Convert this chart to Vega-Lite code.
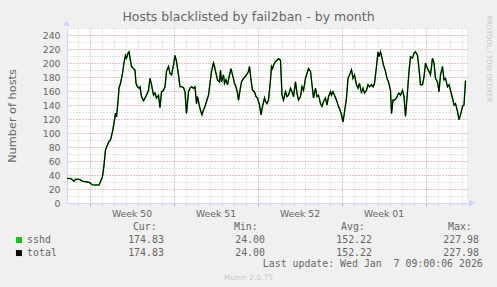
{
"$schema": "https://vega.github.io/schema/vega-lite/v6.json",
"width": 400, "height": 175,
"autosize": "none",
"padding": {"left": 67, "top": 28, "right": 30, "bottom": 84},
"background": "#F0F0F0",
"view": {"fill": "#FFFFFF", "stroke": null},
"title": {"text": "Hosts blacklisted by fail2ban - by month", "font": "DejaVu Sans", "fontSize": 12.5, "fontWeight": "normal", "color": "#666666", "anchor": "middle", "frame": "group", "dx": -18.5, "dy": 23, "baseline": "alphabetic", "offset": 4.5},
"config": {"axis": {"labelFont": "DejaVu Sans", "labelFontSize": 9.3, "labelColor": "#666666", "titleFont": "DejaVu Sans", "titleFontWeight": "normal", "titleColor": "#666666", "labelOverlap": false, "labelFlush": false}},
"data": {"values": [
{"t":"2025-12-06T03:00Z","v":35},{"t":"2025-12-06T10:00Z","v":35},{"t":"2025-12-06T14:00Z","v":33},{"t":"2025-12-06T17:00Z","v":31},{"t":"2025-12-06T20:00Z","v":34},
{"t":"2025-12-07T03:00Z","v":34},{"t":"2025-12-07T06:00Z","v":33},{"t":"2025-12-07T10:00Z","v":31},{"t":"2025-12-07T16:00Z","v":30.5},{"t":"2025-12-07T23:00Z","v":29.5},
{"t":"2025-12-08T02:00Z","v":28},{"t":"2025-12-08T06:00Z","v":26},{"t":"2025-12-08T12:00Z","v":25.7},{"t":"2025-12-08T19:00Z","v":25.7},{"t":"2025-12-08T22:00Z","v":30.5},
{"t":"2025-12-09T02:00Z","v":37.6},{"t":"2025-12-09T05:00Z","v":54},{"t":"2025-12-09T08:00Z","v":76},{"t":"2025-12-09T12:00Z","v":83},{"t":"2025-12-09T15:00Z","v":88},{"t":"2025-12-09T18:00Z","v":90},{"t":"2025-12-09T22:00Z","v":102},
{"t":"2025-12-10T01:00Z","v":114},{"t":"2025-12-10T04:00Z","v":128},{"t":"2025-12-10T06:00Z","v":123},{"t":"2025-12-10T09:00Z","v":145},{"t":"2025-12-10T11:00Z","v":164},{"t":"2025-12-10T14:00Z","v":171},{"t":"2025-12-10T18:00Z","v":185},{"t":"2025-12-10T21:00Z","v":200},
{"t":"2025-12-11T00:00Z","v":211},{"t":"2025-12-11T02:00Z","v":207},{"t":"2025-12-11T05:00Z","v":214},{"t":"2025-12-11T07:00Z","v":216},{"t":"2025-12-11T12:00Z","v":195},{"t":"2025-12-11T16:00Z","v":192},{"t":"2025-12-11T19:00Z","v":190},{"t":"2025-12-11T21:00Z","v":171},
{"t":"2025-12-12T00:00Z","v":166},{"t":"2025-12-12T03:00Z","v":164},{"t":"2025-12-12T05:00Z","v":166},{"t":"2025-12-12T08:00Z","v":152},{"t":"2025-12-12T12:00Z","v":146},{"t":"2025-12-12T15:00Z","v":150},{"t":"2025-12-12T18:00Z","v":154},{"t":"2025-12-12T22:00Z","v":161},
{"t":"2025-12-13T01:00Z","v":178},{"t":"2025-12-13T04:00Z","v":169},{"t":"2025-12-13T08:00Z","v":154},{"t":"2025-12-13T11:00Z","v":157},{"t":"2025-12-13T14:00Z","v":150},{"t":"2025-12-13T18:00Z","v":154},{"t":"2025-12-13T21:00Z","v":136},
{"t":"2025-12-14T00:00Z","v":159},{"t":"2025-12-14T04:00Z","v":161},{"t":"2025-12-14T07:00Z","v":166},{"t":"2025-12-14T10:00Z","v":188},{"t":"2025-12-14T14:00Z","v":195},{"t":"2025-12-14T17:00Z","v":185},{"t":"2025-12-14T20:00Z","v":183},
{"t":"2025-12-15T00:00Z","v":197},{"t":"2025-12-15T03:00Z","v":211},{"t":"2025-12-15T06:00Z","v":202},{"t":"2025-12-15T10:00Z","v":183},{"t":"2025-12-15T13:00Z","v":166},{"t":"2025-12-15T16:00Z","v":166},{"t":"2025-12-15T20:00Z","v":165},{"t":"2025-12-15T23:00Z","v":159},
{"t":"2025-12-16T02:00Z","v":128},{"t":"2025-12-16T06:00Z","v":159},{"t":"2025-12-16T09:00Z","v":164},{"t":"2025-12-16T12:00Z","v":166},{"t":"2025-12-16T16:00Z","v":164},{"t":"2025-12-16T19:00Z","v":166},{"t":"2025-12-16T22:00Z","v":142},
{"t":"2025-12-17T00:00Z","v":152},{"t":"2025-12-17T04:00Z","v":138},{"t":"2025-12-17T07:00Z","v":130},{"t":"2025-12-17T09:00Z","v":126},{"t":"2025-12-17T12:00Z","v":133},{"t":"2025-12-17T15:00Z","v":138},{"t":"2025-12-17T18:00Z","v":145},{"t":"2025-12-17T22:00Z","v":154},
{"t":"2025-12-18T01:00Z","v":171},{"t":"2025-12-18T04:00Z","v":188},{"t":"2025-12-18T08:00Z","v":200},{"t":"2025-12-18T10:00Z","v":195},{"t":"2025-12-18T13:00Z","v":185},{"t":"2025-12-18T16:00Z","v":176},{"t":"2025-12-18T20:00Z","v":173},{"t":"2025-12-18T22:00Z","v":190},
{"t":"2025-12-19T00:00Z","v":173},{"t":"2025-12-19T04:00Z","v":183},{"t":"2025-12-19T06:00Z","v":171},{"t":"2025-12-19T09:00Z","v":176},{"t":"2025-12-19T12:00Z","v":169},{"t":"2025-12-19T16:00Z","v":183},{"t":"2025-12-19T19:00Z","v":192},{"t":"2025-12-19T22:00Z","v":183},
{"t":"2025-12-20T02:00Z","v":171},{"t":"2025-12-20T05:00Z","v":166},{"t":"2025-12-20T08:00Z","v":157},{"t":"2025-12-20T10:00Z","v":147},{"t":"2025-12-20T13:00Z","v":161},{"t":"2025-12-20T16:00Z","v":173},{"t":"2025-12-20T20:00Z","v":178},{"t":"2025-12-20T23:00Z","v":180},
{"t":"2025-12-21T02:00Z","v":183},{"t":"2025-12-21T06:00Z","v":188},{"t":"2025-12-21T08:00Z","v":195},{"t":"2025-12-21T11:00Z","v":176},{"t":"2025-12-21T14:00Z","v":161},{"t":"2025-12-21T18:00Z","v":159},{"t":"2025-12-21T21:00Z","v":152},
{"t":"2025-12-22T00:00Z","v":150},{"t":"2025-12-22T04:00Z","v":140},{"t":"2025-12-22T07:00Z","v":126},{"t":"2025-12-22T10:00Z","v":138},{"t":"2025-12-22T14:00Z","v":150},{"t":"2025-12-22T16:00Z","v":145},{"t":"2025-12-22T19:00Z","v":142},{"t":"2025-12-22T22:00Z","v":147},
{"t":"2025-12-23T02:00Z","v":176},{"t":"2025-12-23T04:00Z","v":195},{"t":"2025-12-23T06:00Z","v":192},{"t":"2025-12-23T08:00Z","v":197},{"t":"2025-12-23T12:00Z","v":202},{"t":"2025-12-23T15:00Z","v":204},{"t":"2025-12-23T18:00Z","v":206},{"t":"2025-12-23T22:00Z","v":204},
{"t":"2025-12-24T01:00Z","v":154},{"t":"2025-12-24T04:00Z","v":147},{"t":"2025-12-24T08:00Z","v":159},{"t":"2025-12-24T11:00Z","v":152},{"t":"2025-12-24T14:00Z","v":154},{"t":"2025-12-24T18:00Z","v":164},{"t":"2025-12-24T21:00Z","v":159},
{"t":"2025-12-25T00:00Z","v":152},{"t":"2025-12-25T04:00Z","v":173},{"t":"2025-12-25T07:00Z","v":157},{"t":"2025-12-25T10:00Z","v":147},{"t":"2025-12-25T14:00Z","v":152},{"t":"2025-12-25T17:00Z","v":166},{"t":"2025-12-25T20:00Z","v":161},
{"t":"2025-12-26T00:00Z","v":178},{"t":"2025-12-26T03:00Z","v":185},{"t":"2025-12-26T06:00Z","v":192},{"t":"2025-12-26T10:00Z","v":188},{"t":"2025-12-26T13:00Z","v":169},{"t":"2025-12-26T16:00Z","v":150},{"t":"2025-12-26T20:00Z","v":164},{"t":"2025-12-26T23:00Z","v":152},
{"t":"2025-12-27T02:00Z","v":154},{"t":"2025-12-27T06:00Z","v":142},{"t":"2025-12-27T09:00Z","v":138},{"t":"2025-12-27T12:00Z","v":145},{"t":"2025-12-27T16:00Z","v":150},{"t":"2025-12-27T19:00Z","v":140},{"t":"2025-12-27T22:00Z","v":152},
{"t":"2025-12-28T02:00Z","v":159},{"t":"2025-12-28T04:00Z","v":154},{"t":"2025-12-28T07:00Z","v":159},{"t":"2025-12-28T10:00Z","v":154},{"t":"2025-12-28T14:00Z","v":147},{"t":"2025-12-28T17:00Z","v":140},{"t":"2025-12-28T20:00Z","v":135},
{"t":"2025-12-29T00:00Z","v":126},{"t":"2025-12-29T03:00Z","v":116},{"t":"2025-12-29T06:00Z","v":130},{"t":"2025-12-29T10:00Z","v":150},{"t":"2025-12-29T13:00Z","v":178},{"t":"2025-12-29T16:00Z","v":183},{"t":"2025-12-29T20:00Z","v":190},{"t":"2025-12-29T23:00Z","v":178},
{"t":"2025-12-30T02:00Z","v":183},{"t":"2025-12-30T06:00Z","v":169},{"t":"2025-12-30T09:00Z","v":164},{"t":"2025-12-30T12:00Z","v":171},{"t":"2025-12-30T16:00Z","v":157},{"t":"2025-12-30T19:00Z","v":164},{"t":"2025-12-30T22:00Z","v":157},
{"t":"2025-12-31T02:00Z","v":161},{"t":"2025-12-31T05:00Z","v":169},{"t":"2025-12-31T08:00Z","v":166},{"t":"2025-12-31T12:00Z","v":169},{"t":"2025-12-31T15:00Z","v":166},{"t":"2025-12-31T18:00Z","v":171},{"t":"2025-12-31T22:00Z","v":195},
{"t":"2026-01-01T01:00Z","v":216},{"t":"2026-01-01T03:00Z","v":209},{"t":"2026-01-01T06:00Z","v":216},{"t":"2026-01-01T09:00Z","v":207},{"t":"2026-01-01T12:00Z","v":197},{"t":"2026-01-01T16:00Z","v":188},{"t":"2026-01-01T19:00Z","v":178},{"t":"2026-01-01T22:00Z","v":173},
{"t":"2026-01-02T02:00Z","v":161},{"t":"2026-01-02T04:00Z","v":128},{"t":"2026-01-02T07:00Z","v":147},{"t":"2026-01-02T10:00Z","v":147},{"t":"2026-01-02T14:00Z","v":150},{"t":"2026-01-02T16:00Z","v":154},{"t":"2026-01-02T19:00Z","v":157},{"t":"2026-01-02T22:00Z","v":154},
{"t":"2026-01-03T02:00Z","v":161},{"t":"2026-01-03T05:00Z","v":152},{"t":"2026-01-03T08:00Z","v":124},{"t":"2026-01-03T12:00Z","v":159},{"t":"2026-01-03T15:00Z","v":188},{"t":"2026-01-03T18:00Z","v":209},{"t":"2026-01-03T22:00Z","v":207},
{"t":"2026-01-04T01:00Z","v":214},{"t":"2026-01-04T04:00Z","v":216},{"t":"2026-01-04T08:00Z","v":211},{"t":"2026-01-04T11:00Z","v":192},{"t":"2026-01-04T14:00Z","v":169},{"t":"2026-01-04T18:00Z","v":169},{"t":"2026-01-04T21:00Z","v":180},
{"t":"2026-01-05T00:00Z","v":200},{"t":"2026-01-05T04:00Z","v":192},{"t":"2026-01-05T07:00Z","v":188},{"t":"2026-01-05T10:00Z","v":183},{"t":"2026-01-05T14:00Z","v":207},{"t":"2026-01-05T17:00Z","v":200},{"t":"2026-01-05T20:00Z","v":178},
{"t":"2026-01-06T00:00Z","v":173},{"t":"2026-01-06T03:00Z","v":159},{"t":"2026-01-06T06:00Z","v":183},{"t":"2026-01-06T10:00Z","v":195},{"t":"2026-01-06T13:00Z","v":176},{"t":"2026-01-06T16:00Z","v":178},{"t":"2026-01-06T20:00Z","v":166},{"t":"2026-01-06T23:00Z","v":169},
{"t":"2026-01-07T02:00Z","v":161},{"t":"2026-01-07T06:00Z","v":150},{"t":"2026-01-07T09:00Z","v":140},{"t":"2026-01-07T12:00Z","v":142},{"t":"2026-01-07T16:00Z","v":131},{"t":"2026-01-07T19:00Z","v":119},{"t":"2026-01-07T22:00Z","v":126},
{"t":"2026-01-08T02:00Z","v":138},{"t":"2026-01-08T05:00Z","v":140},{"t":"2026-01-08T08:00Z","v":174.83}
]},
"resolve": {"axis": {"x": "independent", "y": "independent"}},
"layer": [
{
"mark": {"type": "line", "strokeWidth": 1.5},
"encoding": {
"x": {"field": "t", "type": "temporal",
 "scale": {"type": "utc", "domain": [{"year": 2025, "month": 12, "date": 6, "hours": 3, "utc": true}, {"year": 2026, "month": 1, "date": 8, "hours": 11, "utc": true}]},
 "axis": {"orient": "bottom", "tickCount": {"interval": "day", "step": 1}, "labels": false, "domain": false, "ticks": true, "tickSize": 2, "tickColor": "#c8c8c8", "grid": true, "gridColor": "#c8c8c8", "gridDash": [1, 2], "title": null}},
"y": {"field": "v", "type": "quantitative",
 "scale": {"domain": [0, 250], "nice": false, "zero": true},
 "axis": {"orient": "left", "values": [0,10,20,30,40,50,60,70,80,90,100,110,120,130,140,150,160,170,180,190,200,210,220,230,240,250], "labels": false, "ticks": false, "domain": false, "grid": true, "gridColor": "#c8c8c8", "gridDash": [1, 2], "title": null}},
"color": {"datum": "sshd", "type": "nominal",
 "scale": {"domain": ["sshd", "total"], "range": ["#00CC00", "#000000"]},
 "legend": {"orient": "none", "legendX": -53, "legendY": 194.2, "direction": "vertical", "padding": 0,
  "title": "\u200b\u00a0\u00a0\u00a0\u00a0\u00a0\u00a0\u00a0\u00a0\u00a0\u00a0\u00a0\u00a0\u00a0\u00a0\u00a0\u00a0\u00a0\u00a0\u00a0\u00a0Cur:\u00a0\u00a0\u00a0\u00a0\u00a0\u00a0\u00a0\u00a0\u00a0\u00a0\u00a0\u00a0\u00a0Min:\u00a0\u00a0\u00a0\u00a0\u00a0\u00a0\u00a0\u00a0\u00a0\u00a0\u00a0\u00a0\u00a0\u00a0Avg:\u00a0\u00a0\u00a0\u00a0\u00a0\u00a0\u00a0\u00a0\u00a0\u00a0\u00a0\u00a0\u00a0\u00a0Max:",
  "titleFont": "DejaVu Sans Mono", "titleFontSize": 9.9, "titleFontWeight": "normal", "titleColor": "#666666", "titlePadding": 3, "titleLimit": 700,
  "labelFont": "DejaVu Sans Mono", "labelFontSize": 9.9, "labelColor": "#666666", "labelOffset": 3.2, "labelLimit": 700,
  "labelExpr": "pad(datum.label, 17, '\u00a0') + '174.83' + pad('', 12, '\u00a0') + '24.00' + pad('', 12, '\u00a0') + '152.22' + pad('', 12, '\u00a0') + '227.98'",
  "symbolType": "square", "symbolSize": 36, "symbolStrokeWidth": 0, "rowPadding": 2,
  "encode": {"symbols": {"update": {"fill": {"scale": "color", "field": "value"}, "stroke": {"value": "transparent"}}}}}}
}
},
{
"mark": {"type": "line", "strokeWidth": 1.1},
"encoding": {
"x": {"field": "t", "type": "temporal",
 "axis": {"orient": "bottom",
  "values": [{"year": 2025, "month": 12, "date": 8, "utc": true}, {"year": 2025, "month": 12, "date": 15, "utc": true}, {"year": 2025, "month": 12, "date": 22, "utc": true}, {"year": 2025, "month": 12, "date": 29, "utc": true}, {"year": 2026, "month": 1, "date": 5, "utc": true}],
  "labelExpr": "datum.value > 1767500000000 ? '' : 'Week ' + utcFormat(datum.value, '%V')",
  "labelOffset": 42, "labelAlign": "center", "labelPadding": 3,
  "ticks": true, "tickSize": 3, "tickColor": "#e3a3a3",
  "domain": true, "domainColor": "#CFD6F8",
  "grid": true, "gridColor": "#e3a3a3", "gridDash": [1, 2], "title": null}},
"y": {"field": "v", "type": "quantitative",
 "axis": {"orient": "left", "values": [0,20,40,60,80,100,120,140,160,180,200,220,240], "labelPadding": 7, "ticks": false,
  "domain": true, "domainColor": "#CFD6F8", "grid": true, "gridColor": "#e3a3a3", "gridDash": [1, 2],
  "title": "Number of hosts", "titleFontSize": 11.3, "titleAngle": -90, "titleX": -51.5, "titleY": 87.5, "titleAlign": "center", "titleBaseline": "alphabetic"}},
"color": {"datum": "total", "type": "nominal"}
}
},
{
"mark": {"type": "point", "shape": "triangle-right", "filled": true, "size": 30, "color": "#CFD6F8", "opacity": 1, "xOffset": 5},
"encoding": {
"x": {"datum": {"year": 2026, "month": 1, "date": 8, "hours": 11, "utc": true}, "type": "temporal",
 "axis": {"orient": "bottom", "labels": false, "ticks": false, "domain": false, "grid": false,
  "title": "Last update: Wed Jan \u00a07 09:00:06 2026", "titleFont": "DejaVu Sans Mono", "titleFontSize": 9.9, "titleAlign": "right", "titleX": 415.3, "titleY": 63, "titleBaseline": "alphabetic"}},
"y": {"datum": 0, "type": "quantitative",
 "axis": {"orient": "right", "labels": false, "ticks": false, "domain": false, "grid": false,
  "title": "RRDTOOL / TOBI OETIKER", "titleFontSize": 6.75, "titleColor": "#c4c4c4", "titleAngle": 90, "titleX": 21, "titleY": 30.3, "titleAlign": "center", "titleBaseline": "middle"}}
}
},
{
"mark": {"type": "point", "shape": "triangle-up", "filled": true, "size": 30, "color": "#CFD6F8", "opacity": 1, "xOffset": -0.5, "yOffset": -4.5},
"encoding": {
"x": {"datum": {"year": 2025, "month": 12, "date": 6, "hours": 3, "utc": true}, "type": "temporal",
 "axis": {"orient": "bottom", "labels": false, "ticks": false, "domain": false, "grid": false,
  "title": "Munin 2.0.75", "titleFontSize": 7.5, "titleColor": "#c8c8c8", "titleAlign": "center", "titleX": 181, "titleY": 76, "titleBaseline": "alphabetic"}},
"y": {"datum": 250, "type": "quantitative", "axis": null}
}
}
]
}
